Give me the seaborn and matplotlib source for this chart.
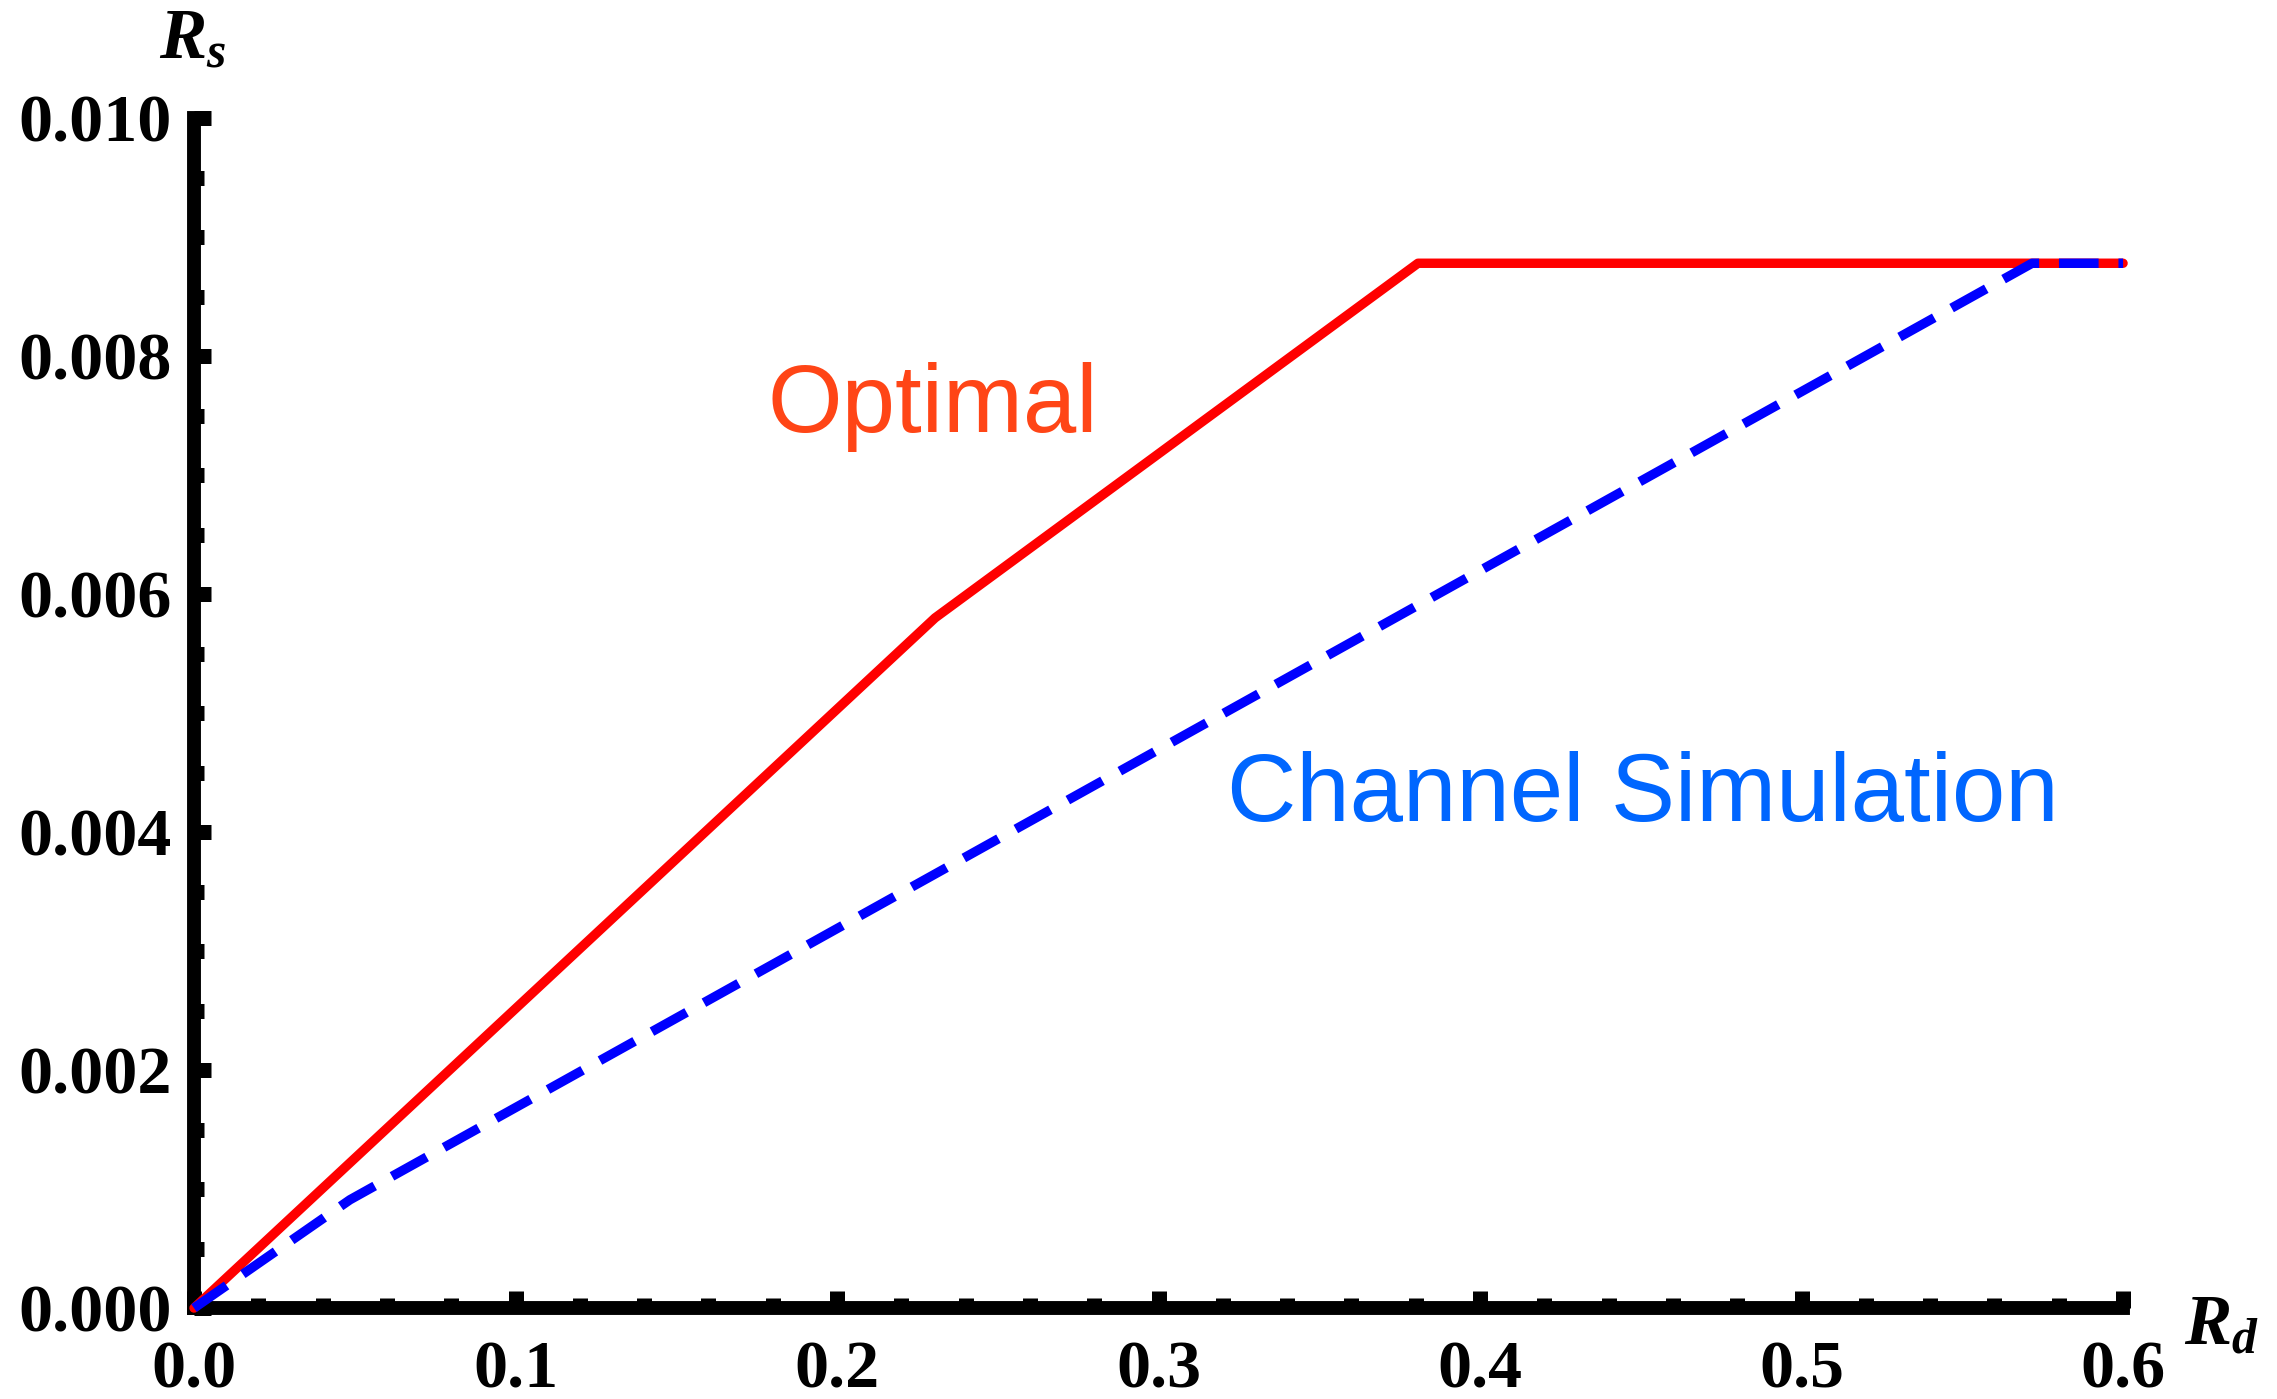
import matplotlib
matplotlib.use("Agg")
import matplotlib.pyplot as plt
import seaborn as sns
import pandas as pd
from matplotlib.ticker import MultipleLocator, FormatStrFormatter

# ---- data ----
rd_optimal = [0.0, 0.2305, 0.3807, 0.6]
rs_optimal = [0.0, 0.00580, 0.00878, 0.00878]
rd_channel = [0.0, 0.0485, 0.5717, 0.6]
rs_channel = [0.0, 0.00091, 0.00878, 0.00878]
x_ticks = [0.0, 0.1, 0.2, 0.3, 0.4, 0.5, 0.6]
y_ticks = [0.000, 0.002, 0.004, 0.006, 0.008, 0.010]
label_optimal = "Optimal"
label_channel = "Channel Simulation"

sns.set_style("white")
plt.rcParams["font.family"] = ["Liberation Serif", "DejaVu Serif"]
plt.rcParams["mathtext.fontset"] = "custom"
plt.rcParams["mathtext.it"] = "Liberation Serif:italic:bold"
plt.rcParams["mathtext.rm"] = "Liberation Serif:bold"
plt.rcParams["text.color"] = "black"
plt.rcParams["xtick.color"] = "black"
plt.rcParams["ytick.color"] = "black"

DPI = 100
fig = plt.figure(figsize=(22.77, 13.99), dpi=DPI)
ax = fig.add_axes([0.0852, 0.0650, 0.8472, 0.8506])

df_opt = pd.DataFrame({"Rd": rd_optimal, "Rs": rs_optimal})
df_ch = pd.DataFrame({"Rd": rd_channel, "Rs": rs_channel})

lw = 6.8
sns.lineplot(data=df_opt, x="Rd", y="Rs", ax=ax, color="#FF0000",
             linewidth=lw, clip_on=False, zorder=3)
sns.lineplot(data=df_ch, x="Rd", y="Rs", ax=ax, color="#0000FF",
             linewidth=lw, clip_on=False, zorder=4)
ax.lines[-1].set_linestyle((0, (4.2, 2.1)))
ax.lines[-1].set_dash_capstyle("butt")

ax.set_xlim(0, 0.6)
ax.set_ylim(0, 0.010)
ax.set_xticks(x_ticks)
ax.set_yticks(y_ticks)
ax.xaxis.set_major_formatter(FormatStrFormatter("%.1f"))
ax.yaxis.set_major_formatter(FormatStrFormatter("%.3f"))
ax.xaxis.set_minor_locator(MultipleLocator(0.02))
ax.yaxis.set_minor_locator(MultipleLocator(0.0005))
ax.set_xlabel("")
ax.set_ylabel("")

for s in ["top", "right"]:
    ax.spines[s].set_visible(False)
for s in ["left", "bottom"]:
    ax.spines[s].set_linewidth(10.0)
    ax.spines[s].set_color("black")
    ax.spines[s].set_capstyle("projecting")

ax.tick_params(axis="both", which="both", bottom=True, left=True,
               top=False, right=False)
ax.tick_params(axis="both", which="major", direction="in", length=12.2,
               width=10.8, color="black", labelsize=49, labelcolor="black")
ax.tick_params(axis="both", which="minor", direction="in", length=7.2,
               width=10.8, color="black")
ax.tick_params(axis="x", which="major", pad=23)
ax.tick_params(axis="y", which="major", pad=16)
for lab in ax.get_xticklabels() + ax.get_yticklabels():
    lab.set_fontweight("bold")
    lab.set_fontfamily("Liberation Serif")
for t in ax.xaxis.get_major_ticks() + ax.yaxis.get_major_ticks() + \
        ax.xaxis.get_minor_ticks() + ax.yaxis.get_minor_ticks():
    t.tick1line.set_clip_on(False)

# axis labels (Mathematica style, at axis ends)
fig.text(159 / 2277, 1 - 59 / 1399, r"$R_s$", fontsize=51,
         ha="left", va="baseline", color="black")
fig.text(2184 / 2277, 1 - 1345 / 1399, r"$R_d$", fontsize=51,
         ha="left", va="baseline", color="black")

# in-plot labels
ax.text(0.1785, 0.00736, label_optimal, fontsize=69, color="#FF4516",
        family="Liberation Sans", ha="left", va="baseline")
ax.text(0.3213, 0.00409, label_channel, fontsize=69, color="#0066FF",
        family="Liberation Sans", ha="left", va="baseline")

fig.savefig("out.png", dpi=DPI, facecolor="white")
